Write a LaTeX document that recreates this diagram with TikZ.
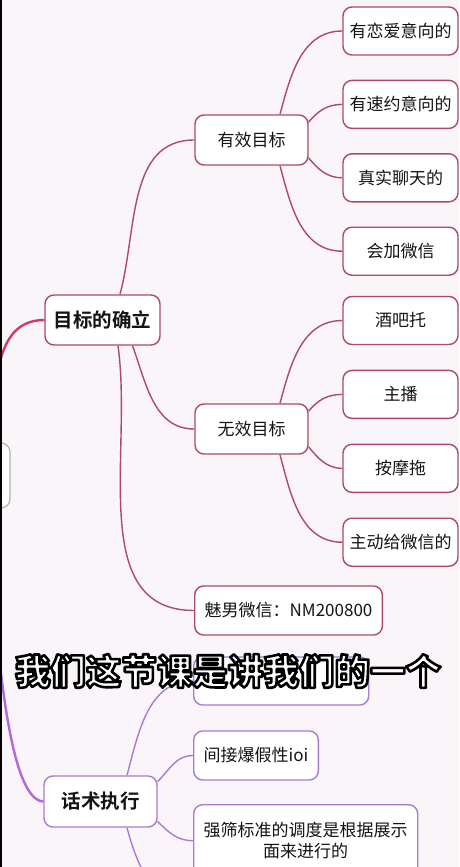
\documentclass[tikz,border=0pt]{standalone}
\usepackage{fontspec}
\setmainfont{Noto Sans CJK SC}[BoldFont={Noto Sans CJK SC Bold}]
\newfontfamily\heavyfont{Noto Sans CJK SC Black}
\usetikzlibrary{positioning}
\definecolor{bg}{HTML}{F9F5F9}
\definecolor{rosy}{HTML}{B0486E}
\definecolor{rosyroot}{HTML}{D23A66}
\definecolor{lilac}{HTML}{A97CD2}
\definecolor{lilacroot}{HTML}{B466DC}
\definecolor{ink}{HTML}{141414}
\newcommand{\outlined}[1]{\special{pdf:literal direct 0 G 2 Tr 2.6 w 1 j}#1\special{pdf:literal direct 0 Tr}}
\tikzstyle{goalroot} = [rectangle, rounded corners=9pt, draw=rosy, line width=1.4pt,
fill=white, text=ink, minimum width=115pt, minimum height=50pt, inner sep=0pt,
font=\bfseries\fontsize{19.5}{23}\selectfont]
\tikzstyle{branchbox} = [rectangle, rounded corners=9pt, draw=rosy, line width=1.4pt,
fill=white, text=ink, minimum width=113pt, minimum height=50pt, inner sep=0pt,
font=\fontsize{17}{21}\selectfont]
\tikzstyle{leaf} = [branchbox, minimum width=115pt, minimum height=48pt]
\tikzstyle{talkbox} = [goalroot, draw=lilac, minimum width=113pt, minimum height=51pt]
\tikzstyle{talkleaf} = [branchbox, draw=lilac, minimum width=0pt, minimum height=49pt, inner xsep=10pt]
\tikzstyle{rootbox} = [rectangle, rounded corners=9pt, draw=black!30, line width=1.2pt,
fill=white, minimum width=120pt, minimum height=65pt]
\tikzstyle{link} = [draw=rosy, line width=1.4pt]
\tikzstyle{talklink} = [draw=lilac, line width=1.4pt]
\tikzstyle{subline} = [font=\heavyfont\fontsize{35.5}{40}\selectfont, inner sep=0pt, text=white]

\begin{document}
\begin{tikzpicture}[x=1pt, y=1pt, node distance=24pt]
\useasboundingbox (0,0) rectangle (459,-867);
\clip (0,0) rectangle (459,-867);
\fill [bg] (0,0) rectangle (459,-867);

\node (root) [rootbox] at (-50,-475.5) {};

% first branch
\node (goal) [goalroot] at (102.5,-320) {目标的确立};
\node (valid) [branchbox] at (251.5,-140) {有效目标};
\node (v1) [leaf] at (400.5,-31) {有恋爱意向的};
\node (v2) [leaf, below=of v1] {有速约意向的};
\node (v3) [leaf, below=of v2] {真实聊天的};
\node (v4) [leaf, below=of v3] {会加微信};
\node (invalid) [branchbox] at (251.5,-429) {无效目标};
\node (n1) [leaf] at (400.5,-320.5) {酒吧托};
\node (n2) [leaf, below=24.5pt of n1] {主播};
\node (n3) [leaf, below=24.5pt of n2] {按摩拖};
\node (n4) [leaf, below=24.5pt of n3] {主动给微信的};
\node (wx) [branchbox, minimum width=0pt, minimum height=49pt, inner xsep=10pt, anchor=west] at (194,-610.5) {魅男微信：NM200800};

% second branch
\node (talk) [talkbox] at (100.5,-801.5) {话术执行};
\node (t1) [talkleaf, minimum width=175pt, minimum height=48pt, anchor=west] at (193,-681) {};
\node (t2) [talkleaf, anchor=west] at (193,-755.5) {间接爆假性ioi};
\node (t3) [talkleaf, minimum height=72pt, align=center, anchor=north west] at (193,-804)
  {强筛标准的调度是根据展示\\面来进行的};
\coordinate (more) at (193,-905);

\draw [rosyroot, line width=2.4pt] ([xshift=38pt]root.north) to[out=80,in=180] (goal.west);
\draw [lilacroot, line width=2.4pt] ([xshift=38pt]root.south) .. controls (-2,-700) and (15,-800) .. (talk.west);

\draw [link] ([xshift=17.5pt]goal.north) to[out=75,in=180] (valid.west);
\draw [link] ([xshift=30pt]goal.south) to[out=-70,in=180] (invalid.west);
\draw [link] ([xshift=15.5pt]goal.south) to[out=-82,in=180] (wx.west);

\draw [link] ([xshift=28.5pt]valid.north) to[out=75,in=180] (v1.west);
\draw [link] ([yshift=18pt]valid.east) to[out=50,in=180] (v2.west);
\draw [link] ([yshift=-18pt]valid.east) to[out=-50,in=180] (v3.west);
\draw [link] ([xshift=28.5pt]valid.south) to[out=-75,in=180] (v4.west);

\draw [link] ([xshift=28.5pt]invalid.north) to[out=75,in=180] (n1.west);
\draw [link] ([yshift=18pt]invalid.east) to[out=50,in=180] (n2.west);
\draw [link] ([yshift=-18pt]invalid.east) to[out=-50,in=180] (n3.west);
\draw [link] ([xshift=28.5pt]invalid.south) to[out=-75,in=180] (n4.west);

\draw [talklink] ([xshift=26.5pt]talk.north) to[out=75,in=180] (t1.west);
\draw [talklink] ([yshift=20pt]talk.east) to[out=45,in=180] (t2.west);
\draw [talklink] ([yshift=-20pt]talk.east) to[out=-45,in=180] (t3.west);
\draw [talklink] ([xshift=26.5pt]talk.south) to[out=-75,in=180] (more);

\fill [black] (0,0) rectangle (1.5,-867);

% subtitle over the map
\node (sub) [subline] at (228,-671) {\outlined{我们这节课是讲我们的一个}};

\end{tikzpicture}
\end{document}
